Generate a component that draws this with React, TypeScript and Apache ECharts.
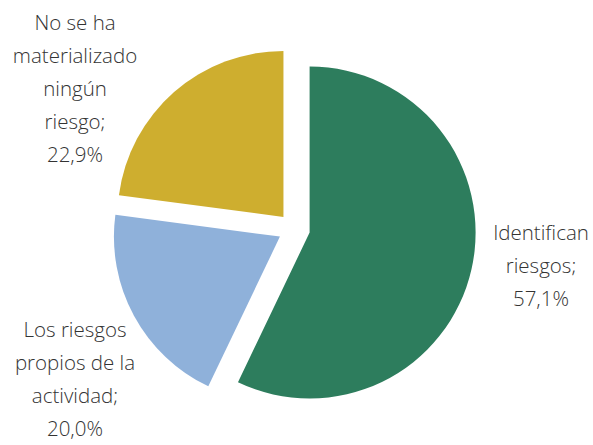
import React, { useEffect, useRef } from "react";
import * as echarts from "echarts";

const categories = [
  "Identifican\nriesgos",
  "Los riesgos\npropios de la\nactividad",
  "No se ha\nmaterializado\nningún\nriesgo",
];
const values = [57.1, 20.0, 22.9];
const colors = ["#2d7d5d", "#8fb1da", "#ceae2f"];

export default function App() {
  const ref = useRef<HTMLDivElement>(null);
  useEffect(() => {
    if (!ref.current) return;
    const chart = echarts.init(ref.current, undefined, { renderer: "svg" });
    const labelPos = [
      { x: 541, y: 265 },
      { x: 75, y: 378 },
      { x: 75, y: 88 },
    ];
    const common = {
      type: "pie",
      center: [294, 229],
      radius: 166,
      startAngle: 90,
      clockwise: true,
      emphasis: { disabled: true },
    };
    chart.setOption({
      animation: false,
      backgroundColor: "#ffffff",
      series: [
        {
          ...common,
          selectedMode: "multiple",
          selectedOffset: 16,
          label: { show: false },
          labelLine: { show: false },
          data: categories.map((name, i) => ({
            name,
            value: values[i],
            selected: true,
            itemStyle: { color: colors[i] },
          })),
        },
        {
          ...common,
          silent: true,
          selectedMode: false,
          itemStyle: { color: "rgba(0,0,0,0)" },
          label: {
            show: true,
            position: "outside",
            fontFamily: "'Open Sans', sans-serif",
            fontWeight: 300,
            fontSize: 20.5,
            lineHeight: 33,
            color: "#333333",
            align: "center",
            overflow: "none",
            formatter: (p: any) =>
              `${p.name};\n${p.value.toFixed(1).replace(".", ",")}%`,
          },
          labelLine: { show: false },
          labelLayout: (params: any) => {
            const pos = labelPos[params.dataIndex];
            return { x: pos.x, y: pos.y, align: "center", verticalAlign: "middle" };
          },
          data: categories.map((name, i) => ({ name, value: values[i] })),
        },
      ],
    });
    return () => chart.dispose();
  }, []);
  return (
    <div
      ref={ref}
      style={{ position: "absolute", left: 0, top: 0, width: 593, height: 445 }}
    />
  );
}
